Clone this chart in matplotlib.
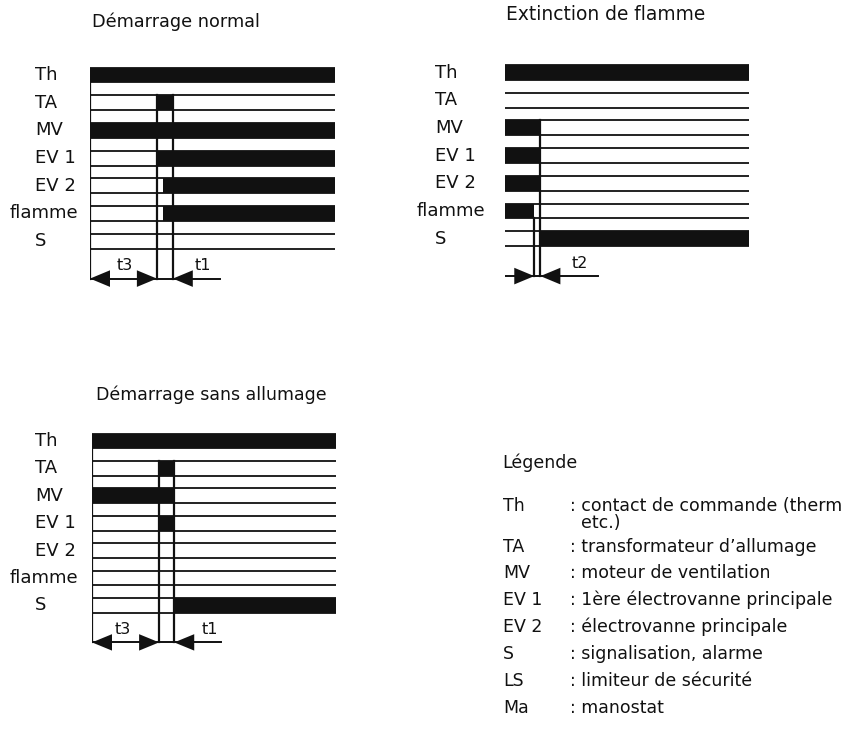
import matplotlib
matplotlib.use('Agg')
import matplotlib.pyplot as plt
from matplotlib.patches import Polygon

# signal names (same order in every diagram)
signals = ['Th', 'TA', 'MV', 'EV 1', 'EV 2', 'flamme', 'S']

# ON intervals per signal, time axis 0..100 for each diagram
normal_on = [[(0, 100)], [(27.3, 33.8)], [(0, 100)], [(27.3, 100)],
             [(29.7, 100)], [(29.7, 100)], []]
extinction_on = [[(0, 100)], [], [(0, 14.5)], [(0, 14.5)],
                 [(0, 14.5)], [(0, 12)], [(14.5, 100)]]
noignition_on = [[(0, 100)], [(27.5, 33.7)], [(0, 33.7)], [(27.5, 33.7)],
                 [], [], [(33.7, 100)]]

# event times (vertical markers) and the signal row they start from
normal_marks = [(27.3, 'TA'), (33.8, 'TA')]
extinction_marks = [(12, 'S'), (14.5, 'MV')]
noignition_marks = [(27.5, 'TA'), (33.7, 'TA')]

# timing dimensions: (tip time, direction) and labels
normal_tips = [(0, -1), (27.3, 1), (33.8, -1)]
extinction_tips = [(12, 1), (14.5, -1)]
noignition_tips = [(0, -1), (27.5, 1), (33.7, -1)]
normal_dim_labels = [('t3', 14.3), ('t1', 46)]
extinction_dim_labels = [('t2', 30.7)]
noignition_dim_labels = [('t3', 12.7), ('t1', 48.4)]

legend_keys = ['Th', '', 'TA', 'MV', 'EV 1', 'EV 2', 'S', 'LS', 'Ma']
legend_texts = [': contact de commande (thermostat,', '  etc.)',
                ': transformateur d\u2019allumage', ': moteur de ventilation',
                ': 1\u00e8re \u00e9lectrovanne principale',
                ': \u00e9lectrovanne principale', ': signalisation, alarme',
                ': limiteur de s\u00e9curit\u00e9', ': manostat']

W, H = 841, 749
INK = '#111111'
HALF = 0.27
ARROW_ROW = 7.35

fig = plt.figure(figsize=(W / 100, H / 100), dpi=100)


def panel_axes(x0, x1, row0, pitch):
    top = row0 - 0.7 * pitch
    bottom = row0 + 7.9 * pitch
    ax = fig.add_axes([x0 / W, 1 - bottom / H, (x1 - x0) / W, (bottom - top) / H])
    ax.set_xlim(0, 100)
    ax.set_ylim(7.9, -0.7)
    ax.axis('off')
    return ax


def draw_panel(ax, states, marks, tips, dim_labels, arrow_end,
               label_off, flamme_off, left_edge, scale):
    for i, name in enumerate(signals):
        for y in (i - HALF, i + HALF):
            ax.plot([0, 100], [y, y], color=INK, lw=1.3, solid_capstyle='butt')
        for a, b in states[i]:
            ax.fill_between([a, b], i - HALF, i + HALF, color=INK, lw=0)
        if name == 'flamme':
            ax.annotate(name, xy=(0, i), xytext=(flamme_off, 0),
                        textcoords='offset pixels', ha='right', va='center',
                        fontsize=13, color=INK)
        else:
            ax.annotate(name, xy=(0, i), xytext=(label_off, 0),
                        textcoords='offset pixels', ha='left', va='center',
                        fontsize=13, color=INK)
    if left_edge:
        ax.plot([0, 0], [HALF, ARROW_ROW], color=INK, lw=1.6)
    for t, start in marks:
        r = signals.index(start)
        y0 = r - HALF if start != 'S' else r - 1 + HALF
        ax.plot([t, t], [y0, ARROW_ROW], color=INK, lw=1.6)
    ax.plot([0, arrow_end], [ARROW_ROW, ARROW_ROW], color=INK, lw=1.4)
    L = 20 / scale
    h = 0.3
    for tip, d in tips:
        ax.add_patch(Polygon([(tip, ARROW_ROW), (tip - d * L, ARROW_ROW - h),
                              (tip - d * L, ARROW_ROW + h)],
                             closed=True, color=INK, lw=0))
    for txt, x in dim_labels:
        ax.text(x, 6.88, txt, ha='center', va='center', fontsize=11.5, color=INK)


ax1 = panel_axes(90, 335, 75, 27.7)
draw_panel(ax1, normal_on, normal_marks, normal_tips, normal_dim_labels, 53,
           -55, -12, True, 2.45)
ax2 = panel_axes(505, 749, 72.5, 27.7)
draw_panel(ax2, extinction_on, extinction_marks, extinction_tips,
           extinction_dim_labels, 38, -70, -20, False, 2.44)
ax3 = panel_axes(92, 336, 441, 27.4)
draw_panel(ax3, noignition_on, noignition_marks, noignition_tips,
           noignition_dim_labels, 53, -57, -14, True, 2.44)

fig.text(92 / W, 1 - 22 / H, 'D\u00e9marrage normal', fontsize=12.7,
         ha='left', va='center', color=INK)
fig.text(506 / W, 1 - 15 / H, 'Extinction de flamme', fontsize=13.4,
         ha='left', va='center', color=INK)
fig.text(96 / W, 1 - 395 / H, 'D\u00e9marrage sans allumage', fontsize=12.5,
         ha='left', va='center', color=INK)

fig.text(502 / W, 1 - 463 / H, 'L\u00e9gende', fontsize=12.5, ha='left',
         va='center', color=INK)
legend_y = [506, 523, 547, 573, 600, 627, 654, 681, 708]
for key, txt, y in zip(legend_keys, legend_texts, legend_y):
    fig.text(503 / W, 1 - y / H, key, fontsize=12.5, ha='left', va='center', color=INK)
    fig.text(570 / W, 1 - y / H, txt, fontsize=12.5, ha='left', va='center', color=INK)

plt.savefig('out.png', dpi=100)
